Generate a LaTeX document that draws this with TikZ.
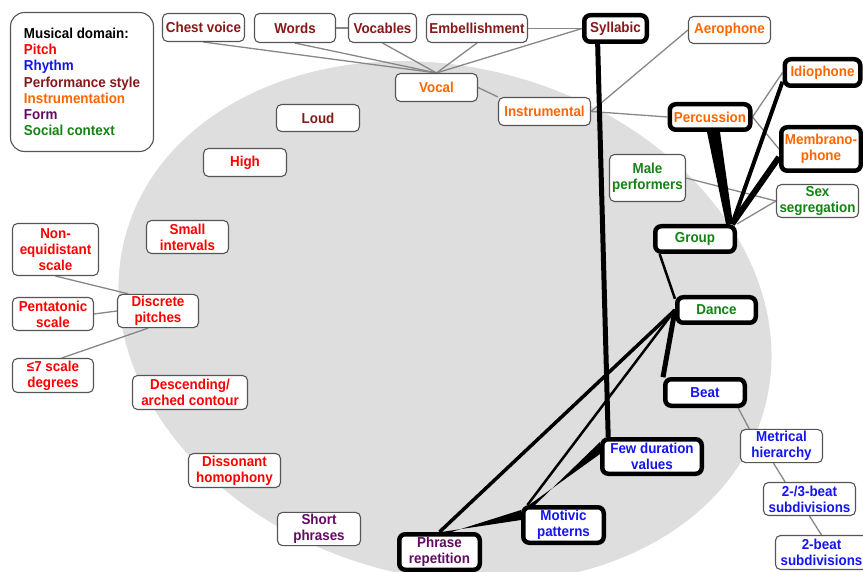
\documentclass[tikz,border=0pt]{standalone}
\usepackage{fontspec}
\setmainfont{Liberation Sans}[FakeStretch=0.93]
\usetikzlibrary{backgrounds,calc}

\definecolor{pitch}{RGB}{255,0,0}
\definecolor{rhythm}{RGB}{20,20,240}
\definecolor{perf}{RGB}{135,25,25}
\definecolor{instr}{RGB}{255,102,0}
\definecolor{form}{RGB}{100,10,100}
\definecolor{social}{RGB}{20,130,20}
\definecolor{boxgray}{RGB}{85,85,85}
\definecolor{linkgray}{RGB}{135,135,135}
\definecolor{ellgray}{RGB}{222,222,222}

\tikzset{
    box/.style={draw=boxgray,line width=1.1pt,rounded corners=5pt,fill=white,
        align=center,inner sep=2pt,
        font=\bfseries\fontsize{14.4}{15.8}\selectfont},
    hub/.style={box,draw=black,line width=4.5pt,rounded corners=6pt},
    link/.style={draw=linkgray,line width=1.3pt},
    bond/.style={draw=black,line width=#1},
    sz/.style 2 args={minimum width=#1pt,minimum height=#2pt},
}

\begin{document}
\begin{tikzpicture}[x=1pt,y=-1pt]
        \useasboundingbox (0,0) rectangle (863,572);
        \clip (0,0) rectangle (863,572);

        \begin{scope}[on background layer]
            \fill[ellgray,rotate around={-15:(445,322)}] (445,322) ellipse [x radius=331,y radius=255];
        \end{scope}

        % legend
        \node (legend) at (82,82) [draw=boxgray,line width=1.1pt,rounded corners=14pt,
            sz={143}{139},align=left,font=\bfseries\fontsize{14.4}{16.2}\selectfont]
            {Musical domain:\\ \textcolor{pitch}{Pitch}\\ \textcolor{rhythm}{Rhythm}\\
             \textcolor{perf}{Performance style}\\ \textcolor{instr}{Instrumentation}\\
             \textcolor{form}{Form}\\ \textcolor{social}{Social context}};

        % performance style / instrumentation
        \node (chest) at (203.5,27.5) [box,sz={82}{28},text=perf] {Chest voice};
        \node (words) at (295,28) [box,sz={81}{29},text=perf] {Words};
        \node (vocables) at (382.5,28) [box,sz={68}{29},text=perf] {Vocables};
        \node (embel) at (477,28.5) [box,sz={101}{28},text=perf] {Embellishment};
        \node (syll) at (615.5,28.5) [hub,sz={62.5}{26.5},text=perf] {Syllabic};
        \node (aero) at (729.5,30) [box,sz={82}{27},text=instr] {Aerophone};
        \node (vocal) at (436.5,87.5) [box,sz={82}{28},text=instr] {Vocal};
        \node (instrum) at (544.5,111.5) [box,sz={92}{28},text=instr] {Instrumental};
        \node (perc) at (710,117) [hub,sz={80.5}{25.5},text=instr] {Percussion};
        \node (idio) at (822.5,72.5) [hub,sz={75.5}{26.5},text=instr] {Idiophone};
        \node (membr) at (821,149) [hub,sz={79.5}{43.5},text=instr] {Membrano-\\phone};
        \node (loud) at (318,118) [box,sz={83}{27},text=perf] {Loud};

        % social context
        \node (male) at (647.5,178) [box,sz={76}{47},text=social] {Male\\performers};
        \node (sex) at (817.5,201) [box,sz={82}{33},text=social] {Sex\\segregation};
        \node (group) at (695,239) [hub,sz={79.5}{25.5},text=social] {Group};
        \node (dance) at (716.5,310) [hub,sz={78.5}{25.5},text=social] {Dance};

        % rhythm
        \node (beat) at (705,392.5) [hub,sz={79.5}{26.5},text=rhythm] {Beat};
        \node (metr) at (781.5,446) [box,sz={82}{33},text=rhythm] {Metrical\\hierarchy};
        \node (sub23) at (809.5,499) [box,sz={92}{33},text=rhythm] {2-/3-beat\\subdivisions};
        \node (sub2) at (821.5,552.5) [box,sz={92}{34},text=rhythm] {2-beat\\subdivisions};
        \node (few) at (652,456.5) [hub,sz={99.5}{34.5},text=rhythm] {Few duration\\values};
        \node (motiv) at (563.5,525) [hub,sz={80.5}{35.5},text=rhythm] {Motivic\\patterns};

        % form
        \node (phrase) at (439.5,552) [hub,sz={80.5}{35.5},text=form] {Phrase\\repetition};
        \node (short) at (319,529) [box,sz={83}{33},text=form] {Short\\phrases};

        % pitch
        \node (disson) at (234.5,470.5) [box,sz={92}{34},text=pitch] {Dissonant\\homophony};
        \node (desc) at (190,392.5) [box,sz={115}{34},text=pitch] {Descending/\\arched contour};
        \node (high) at (245,162.5) [box,sz={83}{28},text=pitch] {High};
        \node (small) at (187.5,237) [box,sz={82}{33},text=pitch] {Small\\intervals};
        \node (noneq) at (55.5,249.5) [box,sz={86}{52},text=pitch] {Non-\\equidistant\\scale};
        \node (penta) at (53,314) [box,sz={81}{33},text=pitch] {Pentatonic\\scale};
        \node (discr) at (158,311) [box,sz={81}{33},text=pitch] {Discrete\\pitches};
        \node (deg7) at (53,375.5) [box,sz={81}{34},text=pitch] {≤7 scale\\degrees};

        \begin{scope}[on background layer]
            % weak links
            \path (chest.south) edge[link] (vocal.north);
            \path (words.south) edge[link] (vocal.north);
            \path (words.east) edge[link] (vocables.west);
            \path (vocables.south) edge[link] (vocal.north);
            \path (embel.south) edge[link] (vocal.north);
            \path (embel.east) edge[link] (syll.west);
            \path (syll.west) edge[link] (vocal.north);
            \path (vocal.east) edge[link] (instrum.north west);
            \path (instrum.east) edge[link] (aero.west);
            \path (instrum.east) edge[link] (perc.west);
            \path (perc.east) edge[link] (idio.west);
            \path (perc.east) edge[link] (membr.west);
            \path (male.east) edge[link] (sex.west);
            \path (group.north east) edge[link] (sex.west);
            \path (beat.-25) edge[link] (metr.152);
            \path (metr.-115) edge[link] (sub23.145);
            \path (sub23.south) edge[link] (sub2.north);
            \path (noneq.south) edge[link] (discr.150);
            \path (penta.east) edge[link] (discr.west);
            \path (deg7.63) edge[link] (discr.-120);

            % strong links
            \path (syll.-139) edge[bond=5pt] (few.156);
            \fill ($(perc.south)+(-3,0)$) -- ($(perc.south)+(10,0)$)
                -- ($(group.north east)+(-4,0)$) -- ($(group.north east)+(-11,0)$) -- cycle;
            \path (idio.-167) edge[bond=4pt] (group.22);
            \path (membr.-169) edge[bond=6pt] (group.22);
            \path (group.-157) edge[bond=2.5pt] (dance.165);
            \path (dance.west) edge[bond=5pt] (beat.160);
            \path (dance.west) edge[bond=3.5pt] (phrase.north);
            \path (dance.west) edge[bond=2.5pt] (motiv.151);
            \fill ($(few.north west)+(0,5)$) -- ($(few.north west)+(0,17)$)
                -- ($(motiv.north west)+(8,0)$) -- ($(motiv.north west)+(14,0)$) -- cycle;
            \fill ($(motiv.north west)+(0,5)$) -- ($(motiv.north west)+(0,15)$)
                -- ($(phrase.north)+(2,0)$) -- ($(phrase.north)+(12,0)$) -- cycle;
        \end{scope}
    \end{tikzpicture}
\end{document}
